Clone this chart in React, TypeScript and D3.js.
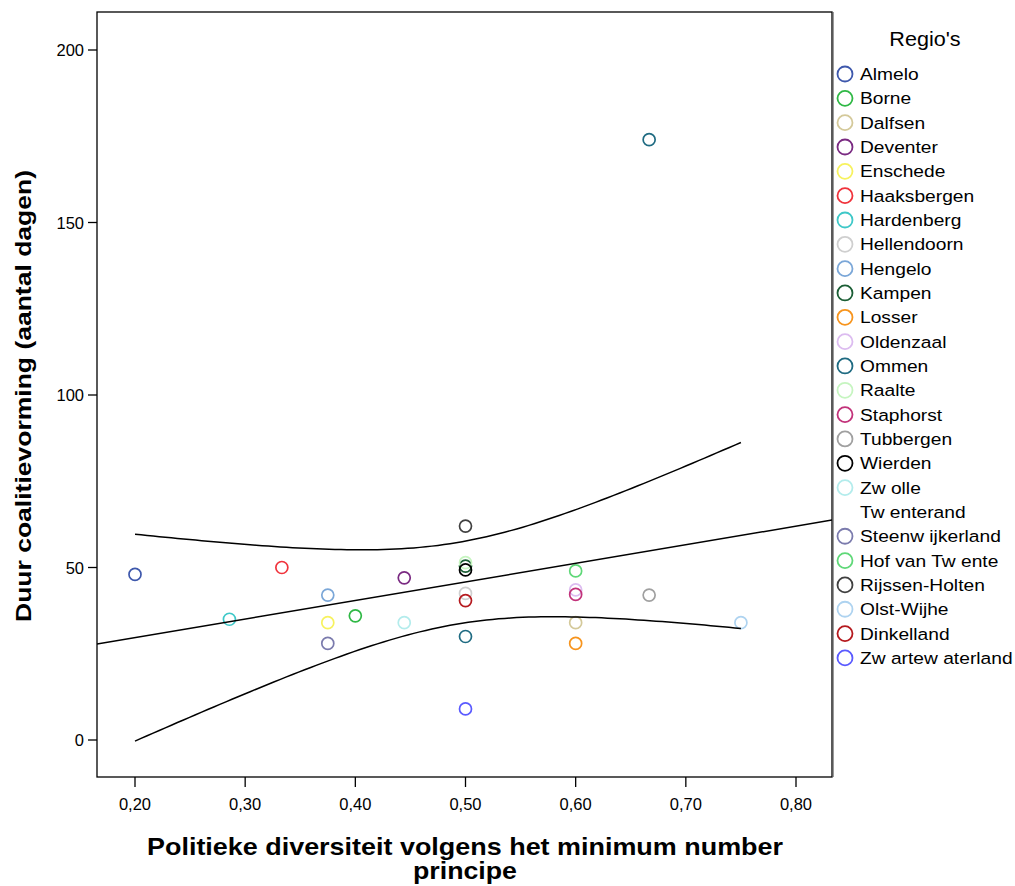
import React from "react";
import * as d3 from "d3";

// ---- data ----
const regions = [
  "Almelo", "Borne", "Dalfsen", "Deventer", "Enschede", "Haaksbergen", "Hardenberg",
  "Hellendoorn", "Hengelo", "Kampen", "Losser", "Oldenzaal", "Ommen", "Raalte",
  "Staphorst", "Tubbergen", "Wierden", "Zw olle", "Tw enterand", "Steenw ijkerland",
  "Hof  van Tw ente", "Rijssen-Holten", "Olst-Wijhe", "Dinkelland", "Zw artew aterland",
];
const diversity = [
  0.2, 0.4, 0.6, 0.4444, 0.375, 0.3333, 0.2857,
  0.5, 0.375, 0.5, 0.6, 0.6, 0.6667, 0.5,
  0.6, 0.6667, 0.5, 0.4444, 0.5, 0.375,
  0.6, 0.5, 0.75, 0.5, 0.5,
];
const duration = [
  48, 36, 34, 47, 34, 50, 35,
  42.5, 42, 50.4, 28, 43.5, 174, 51.4,
  42.2, 42, 49.3, 34, 30, 28,
  49, 62, 34, 40.4, 9,
];
const colors = [
  "#3e58ac", "#2fb845", "#d4c99a", "#7a2a82", "#f7f25e", "#f0333c", "#3ec8c8",
  "#cfcfcf", "#7ba7d8", "#1b5e35", "#f7941d", "#dcbcf0", "#1f6b82", "#c6f5c0",
  "#c2327a", "#a0a0a0", "#000000", "#b3ecec", "#1f6b82", "#7b7bad",
  "#5fd878", "#404040", "#aed3f0", "#b5191e", "#5a5aff",
];
const legendHidden = ["Tw enterand"];
const xTicks = [0.2, 0.3, 0.4, 0.5, 0.6, 0.7, 0.8];
const yTicks = [0, 50, 100, 150, 200];

const W = 1015, H = 886;
const frame = { left: 97, right: 832, top: 12, bottom: 777 };

export default function App() {
  const x = d3.scaleLinear().domain([0.2, 0.8]).range([135, 796]);
  const y = d3.scaleLinear().domain([0, 200]).range([740, 50]);
  const xMin = x.invert(frame.left), xMax = x.invert(frame.right);

  // linear regression with 95% CI for mean
  const n = diversity.length;
  const mx = d3.mean(diversity) as number;
  const my = d3.mean(duration) as number;
  let sxx = 0, sxy = 0, syy = 0;
  for (let i = 0; i < n; i++) {
    sxx += (diversity[i] - mx) ** 2;
    sxy += (diversity[i] - mx) * (duration[i] - my);
    syy += (duration[i] - my) ** 2;
  }
  const b = sxy / sxx;
  const a = my - b * mx;
  const s = Math.sqrt((syy - b * sxy) / (n - 2));
  const t = 2.069;
  const dmin = d3.min(diversity) as number, dmax = d3.max(diversity) as number;
  const samples = d3.range(0, 101).map((k) => dmin + ((dmax - dmin) * k) / 100);
  const half = (v: number) => t * s * Math.sqrt(1 / n + (v - mx) ** 2 / sxx);
  const line = d3.line<[number, number]>().x((d) => x(d[0])).y((d) => y(d[1]));
  const upper = line(samples.map((v) => [v, a + b * v + half(v)] as [number, number]));
  const lower = line(samples.map((v) => [v, a + b * v - half(v)] as [number, number]));
  const fit = line([[xMin, a + b * xMin], [xMax, a + b * xMax]]);

  const font = "'Liberation Sans', Arial, sans-serif";
  return (
    <svg width={W} height={H} style={{ position: "absolute", left: 0, top: 0, background: "#fff" }} fontFamily={font}>
      <rect width={W} height={H} fill="#fff" />
      <defs>
        <clipPath id="plotclip">
          <rect x={frame.left} y={frame.top} width={frame.right - frame.left} height={frame.bottom - frame.top} />
        </clipPath>
      </defs>
      {/* points */}
      <g clipPath="url(#plotclip)">
        {diversity.map((d, i) => (
          <circle key={i} cx={x(d)} cy={y(duration[i])} r={6} fill="none" stroke={colors[i]} strokeWidth={1.7} />
        ))}
        <path d={fit || ""} fill="none" stroke="#000" strokeWidth={1.5} />
        <path d={upper || ""} fill="none" stroke="#000" strokeWidth={1.5} />
        <path d={lower || ""} fill="none" stroke="#000" strokeWidth={1.5} />
      </g>
      {/* frame */}
      <rect x={frame.left} y={frame.top} width={frame.right - frame.left} height={frame.bottom - frame.top} fill="none" stroke="#000" strokeWidth={1.3} />
      <line x1={833.5} x2={833.5} y1={frame.top} y2={frame.bottom} stroke="#9a9a9a" strokeWidth={1} />
      {/* y axis */}
      {yTicks.map((v) => (
        <g key={v}>
          <line x1={frame.left - 9} x2={frame.left} y1={y(v)} y2={y(v)} stroke="#000" strokeWidth={1.3} />
          <text x={frame.left - 13} y={y(v) + 6} textAnchor="end" fontSize={16.5}>{v}</text>
        </g>
      ))}
      {/* x axis */}
      {xTicks.map((v) => (
        <g key={v}>
          <line x1={x(v)} x2={x(v)} y1={frame.bottom} y2={frame.bottom + 10} stroke="#000" strokeWidth={1.3} />
          <text x={x(v)} y={frame.bottom + 33} textAnchor="middle" fontSize={16.5}>{v.toFixed(2).replace(".", ",")}</text>
        </g>
      ))}
      <text transform="translate(31,396) rotate(-90)" textAnchor="middle" fontSize={22} fontWeight="bold" textLength={452} lengthAdjust="spacingAndGlyphs">
        Duur coalitievorming (aantal dagen)
      </text>
      <text x={465} y={855} textAnchor="middle" fontSize={24} fontWeight="bold" textLength={636} lengthAdjust="spacingAndGlyphs">
        Politieke diversiteit volgens het minimum number
      </text>
      <text x={465} y={879} textAnchor="middle" fontSize={23} fontWeight="bold" textLength={104} lengthAdjust="spacingAndGlyphs">principe</text>
      {/* legend */}
      <text transform="translate(925,46) scale(1.08,1)" textAnchor="middle" fontSize={20}>Regio's</text>
      {regions.map((r, i) => {
        const ly = 74 + i * 24.33;
        return (
          <g key={r}>
            {!legendHidden.includes(r) && (
              <circle cx={845} cy={ly} r={7.5} fill="none" stroke={colors[i]} strokeWidth={1.8} />
            )}
            <text transform={`translate(860,${ly + 6}) scale(1.13,1)`} fontSize={17}>{r}</text>
          </g>
        );
      })}
    </svg>
  );
}
